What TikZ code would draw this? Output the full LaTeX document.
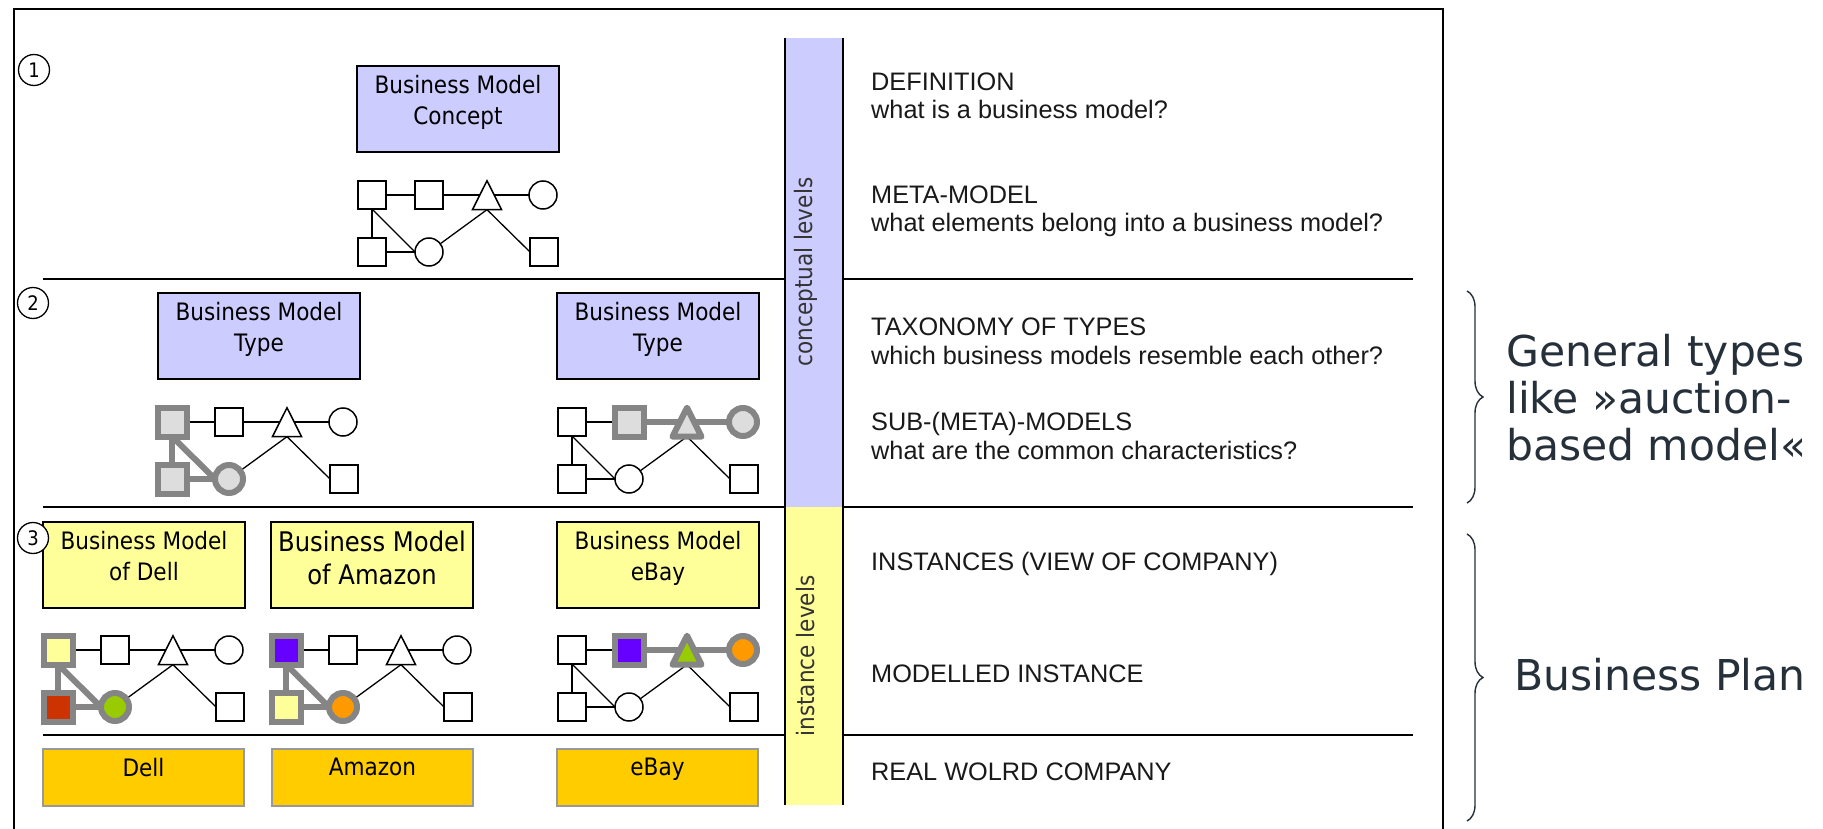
\documentclass[tikz,border=0pt]{standalone}
\usepackage{fontspec}
\setmainfont{Liberation Sans}
\newfontfamily\boxfont[FakeStretch=0.9]{DejaVu Sans}
\newfontfamily\notefont{DejaVu Sans}
\usetikzlibrary{positioning,shapes.geometric,backgrounds,decorations.pathreplacing}

\definecolor{conceptblue}{HTML}{CCCCFF}
\definecolor{instyellow}{HTML}{FFFF99}
\definecolor{firmorange}{HTML}{FFCC00}
\definecolor{firmgray}{HTML}{999999}
\definecolor{hlgray}{HTML}{858585}
\definecolor{hlfill}{HTML}{DDDDDD}
\definecolor{elred}{HTML}{CC3300}
\definecolor{elgreen}{HTML}{99CC00}
\definecolor{elviolet}{HTML}{6600FF}
\definecolor{elorange}{HTML}{FF9900}
\definecolor{notecol}{HTML}{26303B}

% element graph: #1 name, #2 origin, #3-#8 styles of s1 s2 t c1 s3 c2, #9 highlighted edges
\newcommand{\elemgraph}[9]{%
  \begin{scope}[shift={(#2)}]
    \node[#3] (#1s1) at (0,0) {};
    \node[#4] (#1s2) at (57,0) {};
    \node[#5] (#1t) at (115,5) {};
    \node[#6] (#1c1) at (171,0) {};
    \node[#7] (#1s3) at (0,57) {};
    \node[#8] (#1c2) at (57,57) {};
    \node[sq] (#1s4) at (172,57) {};
  \end{scope}
  \begin{scope}[on background layer, #9]
    \draw[thin edge] (#1s1) -- (#1s2);
    \draw[top edge] (#1s2) -- (#1s2 -| #1t);
    \draw[top edge] (#1s2 -| #1t) -- (#1c1);
    \draw[left edge] (#1s1) -- (#1s3);
    \draw[left edge] (#1s1.south) -- (#1c2.west);
    \draw[left edge] (#1s3) -- (#1c2);
    \draw[thin edge] (#1c2) -- (#1t.side 2);
    \draw[thin edge] (#1t.side 2) -- (#1s4.west);
  \end{scope}
}

\begin{document}
\begin{tikzpicture}[
  x=1pt, y=-1pt,
  sq/.style = {draw, line width=1.5pt, fill=white, minimum size=28pt, inner sep=0pt, outer sep=0pt},
  circ/.style = {sq, circle},
  tri/.style = {draw, line width=1.5pt, fill=white, regular polygon, regular polygon sides=3,
    minimum size=38.6pt, inner sep=0pt, outer sep=0pt, xscale=0.87},
  hl sq/.style = {sq, draw=hlgray, line width=6pt, minimum size=29pt, fill=#1},
  hl sq/.default = hlfill,
  hl circ/.style = {circ, draw=hlgray, line width=6pt, fill=#1},
  hl circ/.default = hlfill,
  hl tri/.style = {tri, draw=hlgray, line width=6pt, line join=round, fill=#1},
  hl tri/.default = hlfill,
  thin edge/.style = {draw=black, line width=1.3pt},
  hl edge/.style = {draw=hlgray, line width=6pt},
  plain edges/.style = {left edge/.style={thin edge}, top edge/.style={thin edge}},
  left edges/.style = {left edge/.style={hl edge}, top edge/.style={thin edge}},
  top edges/.style = {left edge/.style={thin edge}, top edge/.style={hl edge}},
  bmbox/.style = {draw, line width=1.5pt, minimum width=202pt, minimum height=86pt,
    anchor=north west, inner sep=0pt, outer sep=0pt},
  concept box/.style = {bmbox, fill=conceptblue},
  inst box/.style = {bmbox, fill=instyellow},
  firm box/.style = {draw=firmgray, line width=1.5pt, fill=firmorange, minimum width=201pt,
    minimum height=57pt, anchor=north west, inner sep=0pt, outer sep=0pt},
  boxtext/.style = {font=\boxfont\fontsize{24}{31}\selectfont, align=center, inner sep=0pt},
  num/.style = {draw, circle, line width=1.3pt, fill=white, minimum size=31pt, inner sep=0pt,
    font=\boxfont\fontsize{20}{24}\selectfont},
  bandtext/.style = {font=\boxfont\fontsize{24}{28}\selectfont, text=black!80, inner sep=0pt, rotate=90},
  coltext/.style = {font=\fontsize{25.3}{29}\selectfont, text=black!90, anchor=base west, inner sep=0pt},
  note/.style = {font=\notefont\fontsize{42.5}{47}\selectfont, text=notecol, inner sep=0pt, align=left},
  seprule/.style = {line width=1.6pt},
  curly/.style = {decorate, decoration={brace, amplitude=16pt}, line width=1.4pt, draw=notecol}
  ]
  \begin{scope}[on background layer]
    \fill[white] (0,0) rectangle (1823,829);
  \end{scope}
  \useasboundingbox (0,0) rectangle (1823,829);

  % frame, open at the bottom
  \draw[seprule] (14,829) -- (14,9) -- (1443,9) -- (1443,829);

  % level band
  \fill[conceptblue] (785,38) rectangle (843,507);
  \fill[instyellow] (785,507) rectangle (843,805);
  \draw[seprule] (785,38) -- (785,805);
  \draw[seprule] (843,38) -- (843,805);
  \node[bandtext] (conclvl) at (806,272) {conceptual levels};
  \node[bandtext] (instlvl) at (806,656) {instance levels};

  \foreach \y in {279,507,735} {
    \draw[seprule] (43,\y) -- (785,\y);
    \draw[seprule] (843,\y) -- (1413,\y);
  }

  % level 1
  \node[concept box] (bmconcept) at (357,66) {};
  \node[boxtext, below=9pt of bmconcept.north] (bmconcepttxt) {Business Model\\Concept};
  \elemgraph{cpt}{372,195}{sq}{sq}{tri}{circ}{sq}{circ}{plain edges}

  % level 2
  \node[concept box] (typeleft) at (158,293) {};
  \node[boxtext, below=9pt of typeleft.north] (typelefttxt) {Business Model\\Type};
  \node[concept box] (typeright) at (557,293) {};
  \node[boxtext, below=9pt of typeright.north] (typerighttxt) {Business Model\\Type};
  \elemgraph{typl}{172,422}{hl sq}{sq}{tri}{circ}{hl sq}{hl circ}{left edges}
  \elemgraph{typr}{572,422}{sq}{hl sq}{hl tri}{hl circ}{sq}{circ}{top edges}

  % level 3
  \node[inst box] (dellbm) at (43,522) {};
  \node[boxtext, below=9pt of dellbm.north] (dellbmtxt) {Business Model\\of Dell};
  \node[inst box] (amznbm) at (271,522) {};
  \node[boxtext, font=\boxfont\fontsize{27}{33}\selectfont, below=9pt of amznbm.north] (amznbmtxt) {Business Model\\of Amazon};
  \node[inst box] (ebaybm) at (557,522) {};
  \node[boxtext, below=9pt of ebaybm.north] (ebaybmtxt) {Business Model\\eBay};
  \elemgraph{dell}{58,650}{hl sq=instyellow}{sq}{tri}{circ}{hl sq=elred}{hl circ=elgreen}{left edges}
  \elemgraph{amzn}{286,650}{hl sq=elviolet}{sq}{tri}{circ}{hl sq=instyellow}{hl circ=elorange}{left edges}
  \elemgraph{ebay}{572,650}{sq}{hl sq=elviolet}{hl tri=elgreen}{hl circ=elorange}{sq}{circ}{top edges}

  % real companies
  \node[firm box] (dellfirm) at (43,749) {};
  \node[boxtext, below=9pt of dellfirm.north] (dellfirmtxt) {Dell};
  \node[firm box] (amznfirm) at (272,749) {};
  \node[boxtext, below=9pt of amznfirm.north] (amznfirmtxt) {Amazon};
  \node[firm box] (ebayfirm) at (557,749) {};
  \node[boxtext, below=9pt of ebayfirm.north] (ebayfirmtxt) {eBay};

  % level numbers
  \node[num] (lvl1) at (34,70) {1};
  \node[num] (lvl2) at (33,303) {2};
  \node[num] (lvl3) at (33,538) {3};

  % right column
  \node[coltext] (defhead) at (871,91) {DEFINITION};
  \node[coltext] (defques) at (871,119) {what is a business model?};
  \node[coltext] (metahead) at (871,204) {META-MODEL};
  \node[coltext] (metaques) at (871,232) {what elements belong into a business model?};
  \node[coltext] (taxhead) at (871,335) {TAXONOMY OF TYPES};
  \node[coltext] (taxques) at (871,364) {which business models resemble each other?};
  \node[coltext] (subhead) at (871,430) {SUB-(META)-MODELS};
  \node[coltext] (subques) at (871,459) {what are the common characteristics?};
  \node[coltext] (insthead) at (871,570) {INSTANCES (VIEW OF COMPANY)};
  \node[coltext] (modhead) at (871,682) {MODELLED INSTANCE};
  \node[coltext] (realhead) at (871,780) {REAL WOLRD COMPANY};

  % braces
  \draw[curly] (1467,291) -- (1467,503);
  \draw[curly] (1467,534) -- (1467,821);
  \node[note, anchor=north west] (gentypes) at (1506,334) {General types\\like »auction-\\based model«};
  \node[note, anchor=base west] (bplan) at (1514,690) {Business Plan};

\end{tikzpicture}
\end{document}
